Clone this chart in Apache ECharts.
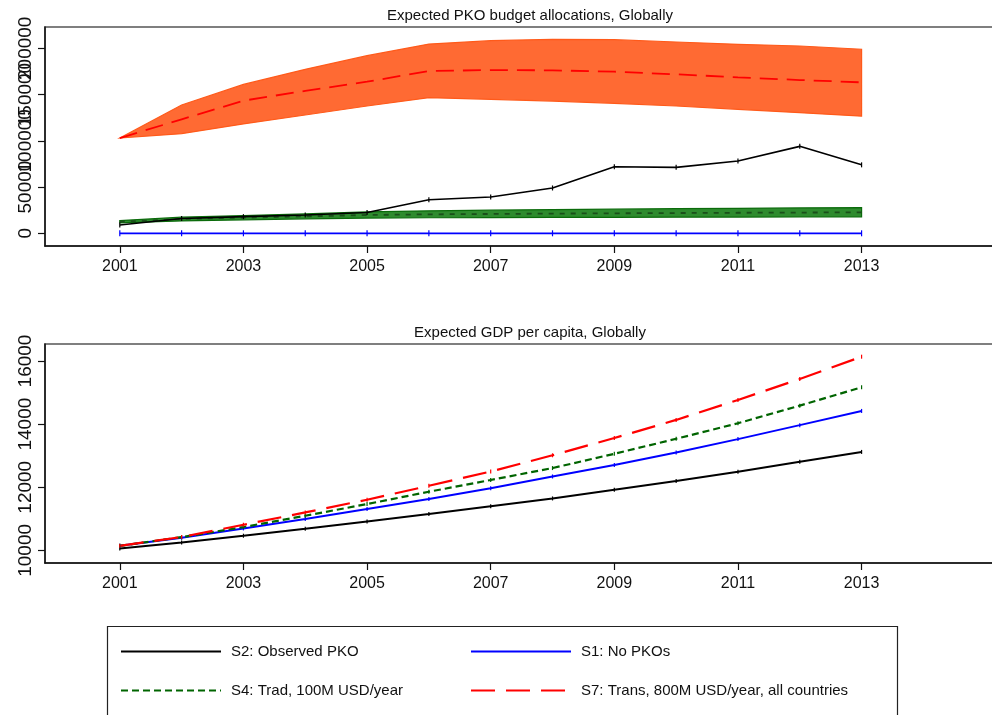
<!DOCTYPE html>
<html>
<head>
<meta charset="utf-8">
<title>Expected PKO budget allocations and GDP per capita, Globally</title>
<script src="https://cdn.jsdelivr.net/npm/echarts@6/dist/echarts.min.js"></script>
<style>
  html, body { margin: 0; padding: 0; background: #fff; }
  #chart { width: 992px; height: 715px; }
</style>
</head>
<body>
<div id="chart"></div>
<script>
// Years shared by both panels
var years = [2001, 2002, 2003, 2004, 2005, 2006, 2007, 2008, 2009, 2010, 2011, 2012, 2013];
var yearTicks = [2001, 2003, 2005, 2007, 2009, 2011, 2013];

// Panel 1: expected PKO budget allocations
var budgetTicks = [0, 50000, 100000, 150000, 200000];
var budgetObserved = [9000, 16000, 18000, 19800, 22500, 36200, 39200, 49000, 72000, 71300, 78200, 94000, 74000];
var budgetNone = [0, 0, 0, 0, 0, 0, 0, 0, 0, 0, 0, 0, 0];
var budgetTradMean = [12500, 15400, 16900, 18300, 19800, 20500, 20900, 21300, 21600, 21900, 22200, 22400, 22700];
var budgetTradLow = [11200, 13400, 14600, 15600, 16500, 16800, 17000, 17200, 17300, 17400, 17500, 17600, 17700];
var budgetTradHigh = [13800, 17400, 19200, 21000, 23100, 24300, 25000, 25600, 26100, 26600, 27000, 27400, 27700];
var budgetTransMean = [103000, 123200, 143400, 154000, 163900, 175400, 176500, 176200, 174700, 171900, 168600, 165700, 163200];
var budgetTransLow = [103000, 107700, 118200, 127900, 137600, 146600, 144800, 143000, 140500, 137600, 134000, 130400, 126600];
var budgetTransHigh = [103000, 138700, 161000, 177300, 192000, 204600, 208200, 209700, 209300, 206800, 204300, 202500, 199000];

// Panel 2: expected GDP per capita
var gdpTicks = [10000, 12000, 14000, 16000];
var gdpObserved = [10060, 10253, 10465, 10687, 10918, 11152, 11400, 11646, 11921, 12196, 12490, 12807, 13120];
var gdpNone = [10145, 10402, 10696, 10994, 11310, 11627, 11970, 12342, 12703, 13101, 13525, 13968, 14418];
var gdpTrad = [10145, 10420, 10740, 11098, 11468, 11858, 12230, 12608, 13060, 13535, 14028, 14585, 15168];
var gdpTrans = [10145, 10424, 10813, 11203, 11604, 12047, 12500, 13013, 13560, 14133, 14766, 15430, 16136];

var NAME_S2 = 'S2: Observed PKO';
var NAME_S1 = 'S1: No PKOs';
var NAME_S4 = 'S4: Trad, 100M USD/year';
var NAME_S7 = 'S7: Trans, 800M USD/year, all countries';

var FONT = '"Liberation Sans", Arial, Helvetica, sans-serif';

function pairs(vals) {
  return years.map(function (y, i) { return [y, vals[i]]; });
}
function plain(v) { return String(v); }

// Shaded interval between a low and a high curve, drawn as one polygon
function bandSeries(name, low, high, fill, stroke) {
  return {
    name: name, type: 'custom', xAxisIndex: 0, yAxisIndex: 0, z: 2, silent: true,
    data: years.map(function (y, i) { return [y, low[i], high[i]]; }),
    encode: { x: 0, y: [1, 2] },
    renderItem: function (params, api) {
      if (params.dataIndex !== 0) { return null; }
      var pts = [];
      years.forEach(function (y, i) { pts.push(api.coord([y, high[i]])); });
      for (var i = years.length - 1; i >= 0; i--) { pts.push(api.coord([years[i], low[i]])); }
      return {
        type: 'polygon',
        shape: { points: pts },
        style: { fill: fill, stroke: stroke, lineWidth: 1.2 }
      };
    }
  };
}

// Scenario line with small vertical ticks at each yearly point
function scenarioLine(name, axisIndex, vals, color, width, dash, tick) {
  return {
    name: name, type: 'line', xAxisIndex: axisIndex, yAxisIndex: axisIndex,
    data: pairs(vals), color: color,
    symbol: tick ? 'rect' : 'none', symbolSize: tick ? [1.2, tick] : 0,
    itemStyle: { color: color },
    lineStyle: { color: color, width: width, type: dash || 'solid' },
    z: 4
  };
}

function xAxisFor(gridIndex) {
  return {
    type: 'value', gridIndex: gridIndex,
    min: 1999.79, max: 2015.32,
    splitLine: { show: false },
    axisLine: { show: true, onZero: false, lineStyle: { color: '#111', width: 1.5 } },
    axisTick: { show: true, length: 7, customValues: yearTicks, lineStyle: { color: '#111', width: 1.2 } },
    axisLabel: { customValues: yearTicks, formatter: plain, showMinLabel: true, showMaxLabel: true,
      color: '#111', fontSize: 16, fontFamily: FONT, margin: 13 }
  };
}
function yAxisFor(gridIndex, min, max, ticks, showLine) {
  return {
    type: 'value', gridIndex: gridIndex, position: 'left', offset: 0,
    min: min, max: max,
    splitLine: { show: false },
    axisLine: { show: showLine, onZero: false, lineStyle: { color: '#111', width: 1.5 } },
    axisTick: { show: true, length: 7, customValues: ticks, lineStyle: { color: '#111', width: 1.2 } },
    axisLabel: { customValues: ticks, formatter: plain, showMinLabel: true, showMaxLabel: true, hideOverlap: false,
      color: '#111', fontSize: 19, fontFamily: FONT, rotate: 90, margin: 10 }
  };
}

// The budget labels are long and overlap their neighbours, so alternate
// ticks are carried by a second, line-less axis on the same scale.
var budgetTicksA = budgetTicks.filter(function (v, i) { return i % 2 === 0; });
var budgetTicksB = budgetTicks.filter(function (v, i) { return i % 2 === 1; });
var BUDGET_MIN = -13730, BUDGET_MAX = 223030;

var chart = echarts.init(document.getElementById('chart'), null, { renderer: 'canvas' });

var option = {
  animation: false,
  backgroundColor: '#fff',
  title: [
    { text: 'Expected PKO budget allocations, Globally', left: 525, top: 3, textAlign: 'center',
      textStyle: { fontSize: 15, fontWeight: 'normal', color: '#111', fontFamily: FONT } },
    { text: 'Expected GDP per capita, Globally', left: 525, top: 320, textAlign: 'center',
      textStyle: { fontSize: 15, fontWeight: 'normal', color: '#111', fontFamily: FONT } }
  ],
  grid: [
    { left: 45, top: 27, width: 960, height: 219, outerBoundsMode: 'none', containLabel: false,
      show: true, borderColor: '#555', borderWidth: 1.5, backgroundColor: 'transparent' },
    { left: 45, top: 344, width: 960, height: 219, outerBoundsMode: 'none', containLabel: false,
      show: true, borderColor: '#555', borderWidth: 1.5, backgroundColor: 'transparent' }
  ],
  xAxis: [xAxisFor(0), xAxisFor(1)],
  yAxis: [
    yAxisFor(0, BUDGET_MIN, BUDGET_MAX, budgetTicksA, true),
    yAxisFor(1, 9601, 16538, gdpTicks, true),
    yAxisFor(0, BUDGET_MIN, BUDGET_MAX, budgetTicksB, false)
  ],
  legend: [
    { data: [NAME_S2], left: 120, top: 644 },
    { data: [NAME_S1], left: 470, top: 644 },
    { data: [NAME_S4], left: 120, top: 683 },
    { data: [NAME_S7], left: 470, top: 683 }
  ].map(function (l) {
    l.itemWidth = 100; l.itemHeight = 14; l.padding = 0; l.selectedMode = false;
    l.itemStyle = { opacity: 0 };
    l.textStyle = { fontSize: 15, color: '#111', fontFamily: FONT, padding: [0, 0, 0, 5] };
    return l;
  }),
  graphic: [
    { type: 'rect', shape: { x: 107.5, y: 626.5, width: 790, height: 120 },
      style: { fill: null, stroke: '#222', lineWidth: 1.2 }, silent: true }
  ],
  series: [
    // GDP per capita panel (first, so legend icons come from these lines)
    scenarioLine(NAME_S2, 1, gdpObserved, '#000000', 2, null, 4),
    scenarioLine(NAME_S1, 1, gdpNone, '#0000ff', 2, null, 4),
    scenarioLine(NAME_S4, 1, gdpTrad, '#006400', 2.2, [7, 4], 4),
    scenarioLine(NAME_S7, 1, gdpTrans, '#ff0000', 2.2, [24, 11], 4),

    // Budget panel: uncertainty bands
    bandSeries('S7 interval', budgetTransLow, budgetTransHigh, '#ff6a33', '#ff5a1a'),
    bandSeries('S4 interval', budgetTradLow, budgetTradHigh, '#2e8b2e', '#0b6b0b'),

    // Budget panel: scenario lines
    scenarioLine(NAME_S7, 0, budgetTransMean, '#ff0000', 1.8, [18, 9], 0),
    scenarioLine(NAME_S4, 0, budgetTradMean, '#1a4f1a', 1.8, [5, 6], 0),
    scenarioLine(NAME_S2, 0, budgetObserved, '#000000', 1.6, null, 5),
    scenarioLine(NAME_S1, 0, budgetNone, '#0000ff', 1.8, null, 6)
  ]
};

chart.setOption(option);
</script>
</body>
</html>
